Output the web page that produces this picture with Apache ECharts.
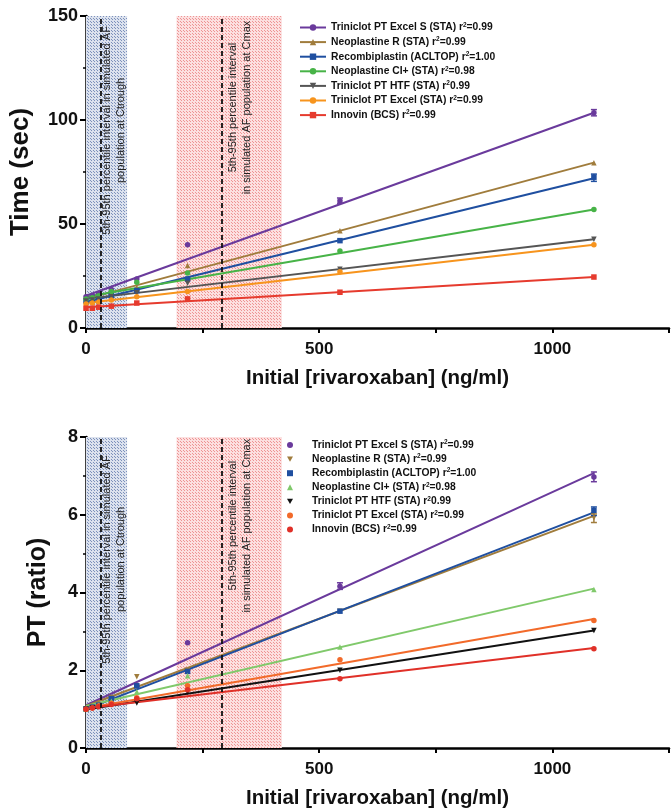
<!DOCTYPE html>
<html><head><meta charset="utf-8">
<script src="https://cdn.jsdelivr.net/npm/echarts@6/dist/echarts.min.js"></script>
<style>html,body{margin:0;padding:0;background:#fff}#c{width:672px;height:810px}</style>
</head><body><div id="c"></div><script>
// ---- data ----
const conc = [0, 13.6, 27.2, 54.4, 108.9, 217.8, 544.5, 1089];
const reagents = ['Triniclot PT Excel S (STA)', 'Neoplastine R (STA)', 'Recombiplastin (ACLTOP)', 'Neoplastine CI+ (STA)', 'Triniclot PT HTF (STA)', 'Triniclot PT Excel (STA)', 'Innovin (BCS)'];
const r2Text = ['=0.99', '=0.99', '=1.00', '=0.98', '0.99', '=0.99', '=0.99'];

// Time (sec)
const timePurple = [15, 15.5, 16.5, 18.5, 23.5, 40, 61.2, 103.5];
const timeBrown  = [13.5, 14, 15, 16.5, 19.5, 30, 46.8, 79.5];
const timeBlue   = [13, 13.5, 14, 15.5, 18, 23.5, 42, 72.5];
const timeGreen  = [14, 14.5, 15.5, 17.5, 22, 26.5, 37, 57];
const timeGray   = [13, 13.5, 14, 15, 17, 21.5, 28.2, 42.7];
const timeOrange = [11.5, 12, 12.5, 13.5, 15, 17.5, 27, 40];
const timeRed    = [9.5, 9.5, 10, 10.5, 12, 14, 17.2, 24.5];
const timeFitStart = [15.5, 14, 12.5, 15, 14, 12, 10];
const timeFitEnd   = [103.5, 79.5, 72, 57, 42.7, 40, 24.5];

// PT (ratio)
const ptPurple = [1.0, 1.05, 1.1, 1.25, 1.6, 2.71, 4.16, 6.97];
const ptBrown  = [1.0, 1.05, 1.1, 1.3, 1.83, 2.0, 3.52, 5.92];
const ptBlue   = [1.0, 1.05, 1.1, 1.27, 1.6, 1.97, 3.52, 6.11];
const ptGreen  = [1.0, 1.05, 1.1, 1.2, 1.45, 1.86, 2.6, 4.08];
const ptBlack  = [1.0, 1.03, 1.06, 1.12, 1.16, 1.44, 2.0, 3.02];
const ptOrange = [1.0, 1.03, 1.08, 1.15, 1.29, 1.6, 2.27, 3.28];
const ptRed    = [1.0, 1.03, 1.06, 1.12, 1.27, 1.5, 1.78, 2.55];
const ptFitStart = [1.1, 1.08, 1.0, 1.08, 0.99, 1.02, 1.02];
const ptFitEnd   = [7.07, 5.97, 6.06, 4.1, 3.02, 3.32, 2.57];

// error bars [x, low, high]
const timeErr = [[1089, 102, 105], [1089, 70.5, 74], [544.5, 60, 62.5]];
const ptErr = [[1089, 6.85, 7.1], [1089, 5.98, 6.2], [1089, 5.8, 6.02], [544.5, 4.08, 4.25]];

// shaded intervals and dashed medians
const troughBand = [0, 88];
const cmaxBand = [194, 420];
const troughMedian = 32;
const cmaxMedian = 290;

const xTicks = { min: 0, max: 1250, interval: 250 };

// ---- styling ----
const timeData = [timePurple, timeBrown, timeBlue, timeGreen, timeGray, timeOrange, timeRed];
const ptData = [ptPurple, ptBrown, ptBlue, ptGreen, ptBlack, ptOrange, ptRed];
const topColors = ['#6a3a9c', '#a07c3c', '#1f4fa0', '#47b347', '#555555', '#f7941d', '#e63b2e'];
const botColors = ['#6a3a9c', '#a07c3c', '#1f4fa0', '#80c96b', '#111111', '#f26a2a', '#e03028'];
const DOWN = 'path://M0,0L10,0L5,9Z';
const topSym = ['circle', 'triangle', 'rect', 'circle', DOWN, 'circle', 'rect'];
const botSym = ['circle', DOWN, 'rect', 'triangle', DOWN, 'circle', 'circle'];

function pattern(bg, dot) {
  const c = document.createElement('canvas');
  c.width = 3; c.height = 3;
  const g = c.getContext('2d');
  g.fillStyle = bg; g.fillRect(0, 0, 3, 3);
  g.fillStyle = dot; g.fillRect(0, 0, 1, 1); g.fillRect(1, 1, 1, 1);
  return { image: c, repeat: 'repeat' };
}
const bluePat = pattern('#dce2ee', '#7d91bb');
const redPat = pattern('#fce0e0', '#ee9494');

const FONT = 'Liberation Sans, Arial, sans-serif';
const NARROW = 'Liberation Sans Narrow, Liberation Sans, Arial, sans-serif';

function makeX(gi) {
  return {
    gridIndex: gi, type: 'value', min: xTicks.min, max: xTicks.max, interval: xTicks.interval,
    name: 'Initial [rivaroxaban] (ng/ml)', nameLocation: 'middle', nameGap: 40,
    nameTextStyle: { fontFamily: FONT, fontWeight: 'bold', fontSize: 20.5, color: '#111' },
    axisLine: { lineStyle: { color: '#000', width: 2.5 } },
    axisTick: { show: true, length: 5, lineStyle: { color: '#000', width: 2 } },
    axisLabel: { margin: 13, fontFamily: FONT, fontWeight: 'bold', fontSize: 17, color: '#111',
      formatter: v => (v % 500 === 0 && v <= 1000) ? String(v) : '' },
    splitLine: { show: false }
  };
}
function makeY(gi, max, interval, name, gap, nameSize) {
  return {
    gridIndex: gi, type: 'value', min: 0, max: max, interval: interval,
    name: name, nameLocation: 'middle', nameGap: gap, nameRotate: 90,
    nameTextStyle: { fontFamily: FONT, fontWeight: 'bold', fontSize: nameSize, color: '#111' },
    axisLine: { show: true, lineStyle: { color: '#000', width: 2.5 } },
    axisTick: { show: true, length: 6, lineStyle: { color: '#000', width: 2 } },
    minorTick: { show: true, splitNumber: 2, length: 3, lineStyle: { color: '#000', width: 1.5 } },
    axisLabel: { margin: 8, fontFamily: FONT, fontWeight: 'bold', fontSize: 18, color: '#111' },
    splitLine: { show: false }
  };
}

const series = [];
function bands(gi) {
  return {
    type: 'line', name: 'bands' + gi, xAxisIndex: gi, yAxisIndex: gi, data: [], z: 1,
    markArea: { silent: true, data: [
      [{ xAxis: troughBand[0], itemStyle: { color: bluePat } }, { xAxis: troughBand[1] }],
      [{ xAxis: cmaxBand[0], itemStyle: { color: redPat } }, { xAxis: cmaxBand[1] }]
    ], label: { show: false } },
    markLine: { silent: true, symbol: 'none', label: { show: false },
      lineStyle: { color: '#111', type: [5, 3], width: 1.8 },
      data: [{ xAxis: troughMedian }, { xAxis: cmaxMedian }] }
  };
}
series.push(bands(0), bands(1));

function addGroup(gi, prefix, data, fitS, fitE, colors, syms, legendLine) {
  data.forEach((arr, i) => {
    const name = prefix + i;
    series.push({
      type: 'line', name: legendLine ? name : name + 'fit', xAxisIndex: gi, yAxisIndex: gi,
      data: [[conc[0], fitS[i]], [conc[conc.length - 1], fitE[i]]],
      showSymbol: false, symbol: syms[i], symbolSize: 5,
      lineStyle: { color: colors[i], width: 2 }, itemStyle: { color: colors[i] }, z: 3, silent: true
    });
    series.push({
      type: 'scatter', name: legendLine ? name + 'pts' : name, xAxisIndex: gi, yAxisIndex: gi,
      data: conc.map((x, k) => [x, arr[k]]),
      symbol: syms[i], symbolSize: 5.5,
      itemStyle: { color: colors[i], opacity: 1 }, z: 4
    });
  });
}
addGroup(0, 'top', timeData, timeFitStart, timeFitEnd, topColors, topSym, true);
addGroup(1, 'bot', ptData, ptFitStart, ptFitEnd, botColors, botSym, false);

function errSeries(gi, data, color) {
  return {
    type: 'custom', xAxisIndex: gi, yAxisIndex: gi, data: data, z: 5, silent: true,
    renderItem: (params, api) => {
      const x = api.value(0);
      const lo = api.coord([x, api.value(1)]);
      const hi = api.coord([x, api.value(2)]);
      const w = 3;
      const st = { stroke: color, lineWidth: 1.5 };
      return { type: 'group', children: [
        { type: 'line', shape: { x1: lo[0], y1: lo[1], x2: hi[0], y2: hi[1] }, style: st },
        { type: 'line', shape: { x1: lo[0] - w, y1: lo[1], x2: lo[0] + w, y2: lo[1] }, style: st },
        { type: 'line', shape: { x1: hi[0] - w, y1: hi[1], x2: hi[0] + w, y2: hi[1] }, style: st }
      ] };
    }
  };
}
series.push(errSeries(0, timeErr.slice(0, 1), topColors[0]));
series.push(errSeries(0, timeErr.slice(1, 2), topColors[2]));
series.push(errSeries(0, timeErr.slice(2, 3), topColors[0]));
series.push(errSeries(1, [ptErr[0], ptErr[3]], botColors[0]));
series.push(errSeries(1, [ptErr[1]], botColors[2]));
series.push(errSeries(1, [ptErr[2]], botColors[1]));

const rich = {
  g: { width: 14, lineHeight: 12 },
  t: { fontFamily: NARROW, fontWeight: 'bold', fontSize: 10.3, color: '#111', lineHeight: 12 },
  s: { fontFamily: NARROW, fontWeight: 'bold', fontSize: 6.5, color: '#111', lineHeight: 12, padding: [0, 0, 5, 0] }
};
function legendFmt(name) {
  const i = +name.replace(/\D/g, '');
  return '{t|' + reagents[i] + ' r}{s|2}{t|' + r2Text[i] + '}';
}
function legendFmtPts(name) {
  return '{g|}' + legendFmt(name);
}

const chart = echarts.init(document.getElementById('c'), null, { renderer: 'canvas' });
chart.setOption({
  animation: false,
  backgroundColor: '#fff',
  grid: [
    { left: 86, top: 16, width: 589, height: 312 },
    { left: 86, top: 437, width: 589, height: 311 }
  ],
  xAxis: [makeX(0), makeX(1)],
  yAxis: [makeY(0, 150, 50, 'Time (sec)', 52, 26), makeY(1, 8, 2, 'PT (ratio)', 35, 25)],
  legend: [
    { orient: 'vertical', left: 294, top: 16.5, itemWidth: 26, itemHeight: 8, itemGap: 2.6,
      data: reagents.map((_, i) => 'top' + i), formatter: legendFmt,
      textStyle: { rich: rich }, selectedMode: false },
    { orient: 'vertical', left: 282, top: 434, itemWidth: 6, itemHeight: 6, itemGap: 2.1,
      data: reagents.map((_, i) => 'bot' + i), formatter: legendFmtPts,
      textStyle: { rich: rich }, selectedMode: false }
  ],
  series: series
});

function annot(gi, x, y, text) {
  const p = chart.convertToPixel({ gridIndex: gi }, [x, y]);
  return { type: 'text', x: p[0], y: p[1], rotation: Math.PI / 2, z: 10,
    style: { text: text, fontFamily: NARROW, fontSize: 11, fill: '#222', align: 'center', verticalAlign: 'middle', lineHeight: 14 } };
}
const troughText = '5th-95th percentile interval in simulated AF\npopulation at Ctrough';
const cmaxText = '5th-95th percentile interval\nin simulated AF population at Cmax';
chart.setOption({ graphic: [
  annot(0, 59, 95, troughText),
  annot(0, 331, 106, cmaxText),
  annot(1, 59, 4.85, troughText),
  annot(1, 331, 5.72, cmaxText)
] });
</script></body></html>
